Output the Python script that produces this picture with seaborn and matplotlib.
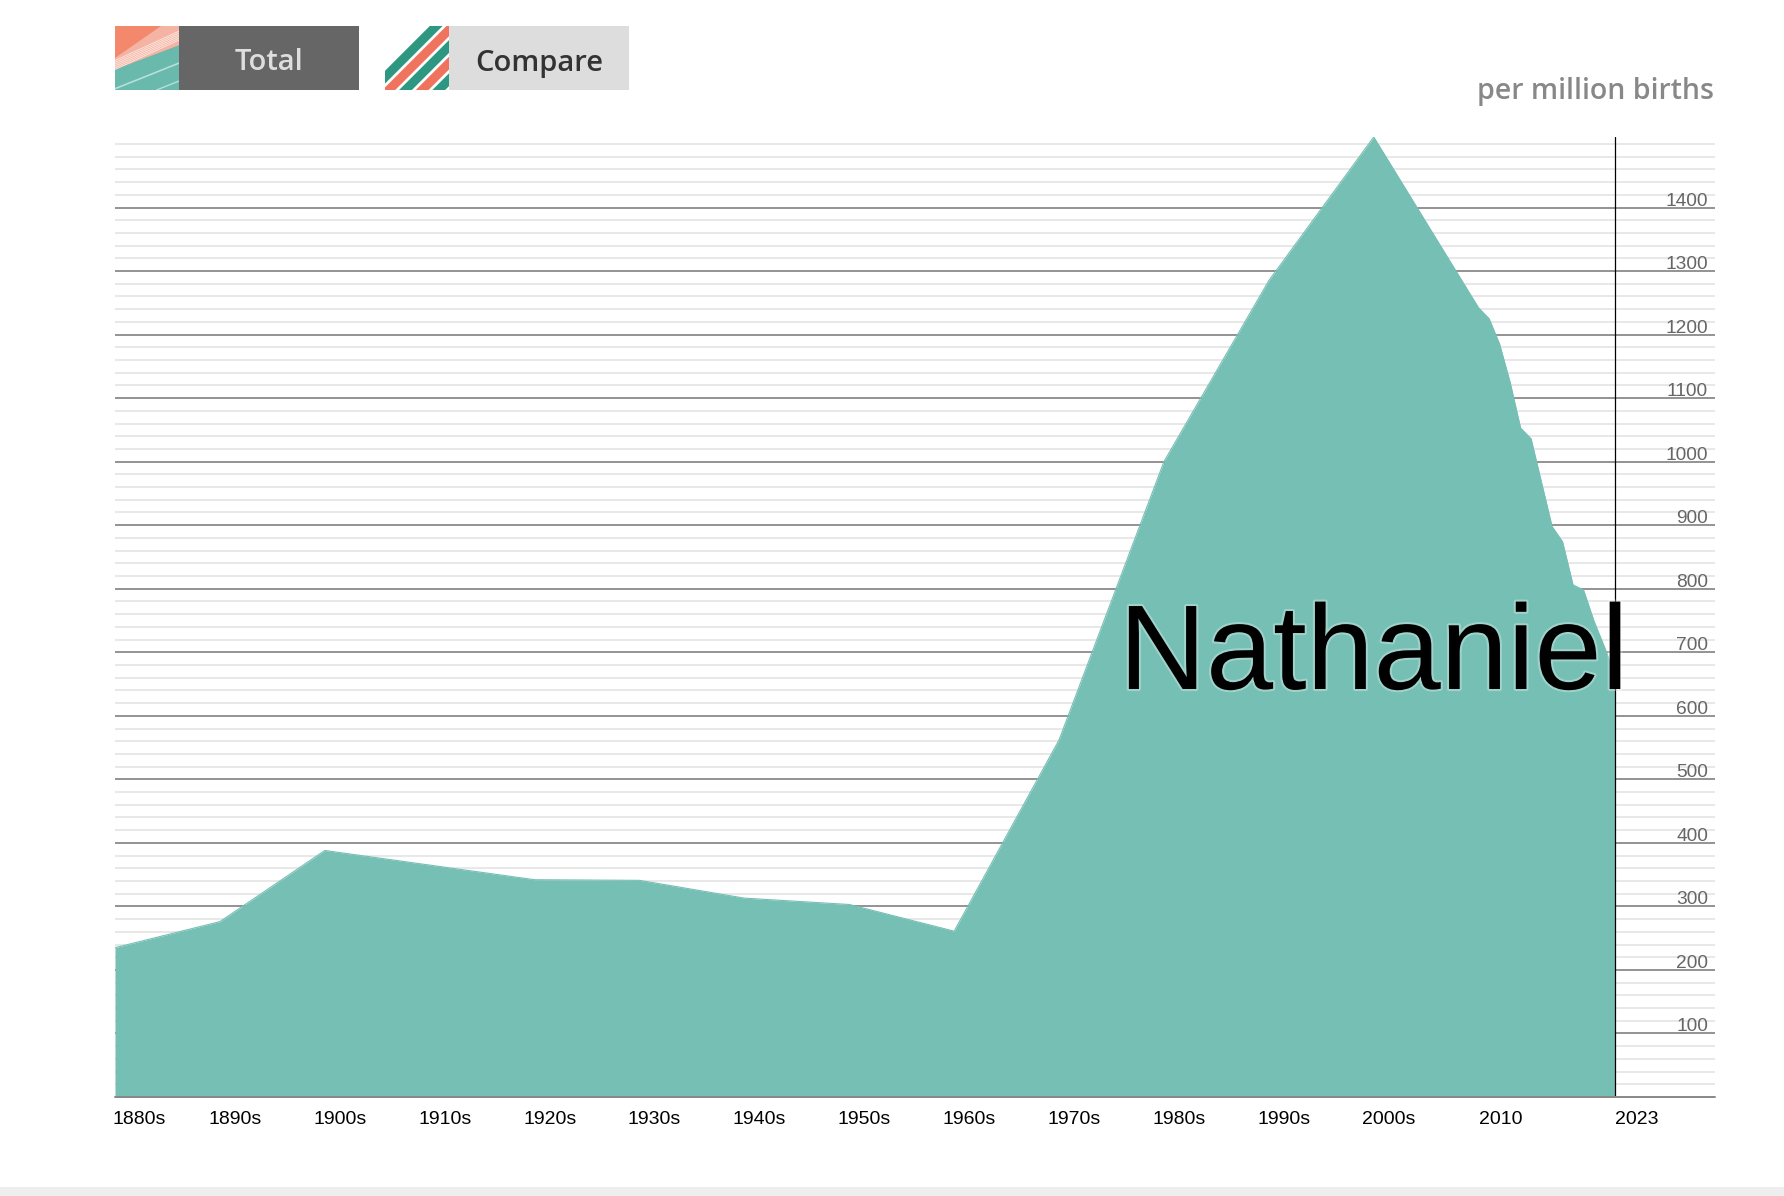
import numpy as np
import pandas as pd
import matplotlib
matplotlib.use("Agg")
import matplotlib.pyplot as plt
import matplotlib.patheffects as pe
from matplotlib.patches import Rectangle
import seaborn as sns

# Nathaniel, per million births
years = [1880, 1890, 1900, 1910, 1920, 1930, 1940, 1950, 1960, 1970, 1980, 1990, 2000,
         2010, 2011, 2012, 2013, 2014, 2015, 2016, 2017, 2018, 2019, 2020, 2021, 2022, 2023]
values = [235, 276, 388, 365, 342, 341, 313, 303, 261, 562, 1000, 1285, 1511,
          1242, 1225, 1185, 1125, 1053, 1036, 967, 898, 874, 806, 798, 749, 708, 665]

tick_years = [1880, 1890, 1900, 1910, 1920, 1930, 1940, 1950, 1960, 1970, 1980, 1990, 2000, 2010, 2023]
tick_labels = ["1880s", "1890s", "1900s", "1910s", "1920s", "1930s", "1940s", "1950s", "1960s",
               "1970s", "1980s", "1990s", "2000s", "2010", "2023"]
y_labels = list(range(100, 1500, 100))

name = "Nathaniel"
unit = "per million births"

df = pd.DataFrame({"year": years, "value": values})

sns.set_theme(style="white")
plt.rcParams["font.family"] = ["Liberation Sans", "DejaVu Sans"]

W, H = 1784, 1196
PT = 0.72  # points per pixel at dpi 100


def fx(px):
    return px / W


def fy(py):
    return 1 - py / H


fig = plt.figure(figsize=(W / 100, H / 100), dpi=100)
fig.patch.set_facecolor("white")

ax = fig.add_axes([fx(115), fy(1097), 1600 / W, (1097 - 137) / H])
ax.set_xlim(1880, 1880 + 1600 / (1500 / 143))
ax.set_ylim(0, 1511)
ax.axis("off")

# grid: dark every 100 (with labels), light every 20
for v in range(20, 1501, 20):
    if v in y_labels:
        ax.axhline(v, color="#757575", lw=1.1, zorder=1)
    else:
        ax.axhline(v, color="#e8e8e8", lw=1.4, zorder=0.5)

teal = "#76bfb4"
ax.fill_between(df["year"], df["value"], 0, color=teal, lw=0, zorder=2)
sns.lineplot(data=df, x="year", y="value", color=teal, lw=0.8, ax=ax, zorder=2.1)

ax.axvline(2023, color="black", lw=0.9, zorder=4)
ax.axhline(0, color="#888888", lw=1.4, zorder=4, clip_on=False)

for v in y_labels:
    ax.annotate(str(v), xy=(1, v), xycoords=("axes fraction", "data"),
                xytext=(-7 * PT, 2 * PT), textcoords="offset points",
                ha="right", va="baseline", fontsize=13.8, color="#666666", zorder=5)

for yr, lab in zip(tick_years, tick_labels):
    if lab.endswith("s"):
        dx = -2.5 if yr == years[0] else -11.5
    else:
        dx = 0
    ax.annotate(lab, xy=(yr, 0), xycoords="data", xytext=(dx * PT, -26.5 * PT),
                textcoords="offset points", ha="left", va="baseline",
                fontsize=14, color="black", annotation_clip=False)

fig.text(fx(1119), fy(689), name, fontsize=86.8, color="black", ha="left", va="baseline",
         path_effects=[pe.withStroke(linewidth=3, foreground="white", alpha=0.3)], zorder=10)

ui_font = ["Open Sans", "DejaVu Sans"]
fig.text(fx(1714), fy(99), unit, fontsize=20.5, color="#888888", ha="right", va="baseline",
         family=ui_font, weight="semibold")

# buttons
fig.add_artist(Rectangle((fx(179), fy(90)), 180 / W, 64 / H, transform=fig.transFigure,
                         color="#666666", lw=0))
fig.add_artist(Rectangle((fx(449), fy(90)), 180 / W, 64 / H, transform=fig.transFigure,
                         color="#dddddd", lw=0))
fig.text(fx(269), fy(70.5), "Total", fontsize=21, color="#dedede", ha="center", va="baseline",
         family=ui_font, weight="semibold")
fig.text(fx(539), fy(70.5), "Compare", fontsize=21, color="#333333", ha="center", va="baseline",
         family=ui_font, weight="semibold")

# "Total" icon
ic1 = fig.add_axes([fx(115), fy(90), 64 / W, 64 / H])
ic1.set_xlim(0, 1)
ic1.set_ylim(0, 1)
ic1.axis("off")
ic1.fill([0, 1, 1, 0], [0, 0, 1, 1], color="#69b9ad", lw=0)
ic1.fill([0, 0.75, 1, 1, 0], [1, 1, 1, 0.70, 0.32], color="#f5b4a3", lw=0)
ic1.fill([0, 0.72, 0], [1, 1, 0.50], color="#f4886d", lw=0)
for k in np.linspace(0, 0.14, 6):
    ic1.plot([0, 1], [0.46 - k, 0.92 - k], color="white", lw=0.6, alpha=0.7)
ic1.plot([0, 1], [0.02, 0.42], color="#b7e0d9", lw=1.2)
ic1.plot([0.65, 1], [0.0, 0.14], color="#b7e0d9", lw=1.0)

# "Compare" icon
ic2 = fig.add_axes([fx(385), fy(90), 64 / W, 64 / H])
ic2.set_xlim(0, 1)
ic2.set_ylim(0, 1)
ic2.axis("off")
cols = ["#2e9782", "#f0735e"]
for i, c in enumerate(np.arange(-0.2, 2.3, 0.26)):
    ic2.plot([c - 1.5, c + 1.5], [-1.5, 1.5], color=cols[i % 2], lw=6.5,
             solid_capstyle="butt")

fig.add_artist(Rectangle((0, 0), 1, 9 / H, transform=fig.transFigure, color="#eeeeee", lw=0))

fig.savefig("out.png", dpi=100)
